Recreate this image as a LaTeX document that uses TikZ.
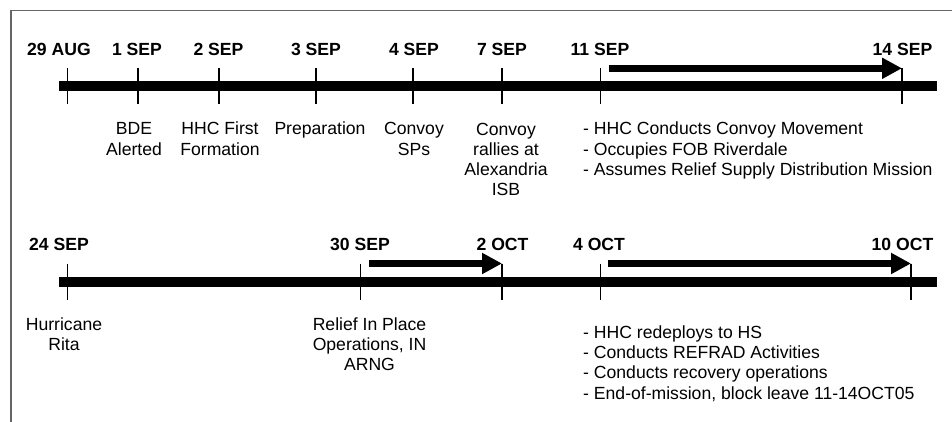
\documentclass[tikz,border=0pt]{standalone}
\usepackage{fontspec}
\setmainfont{Liberation Sans}
\usetikzlibrary{arrows.meta}
\begin{document}
\begin{tikzpicture}[x=1pt,y=-1pt,
  every node/.style={inner sep=0pt, font=\fontsize{17.6}{20.3}\selectfont},
  datelbl/.style={anchor=base, font=\fontsize{17.6}{20.3}\selectfont\bfseries},
  desc/.style={anchor=base, align=center},
  lst/.style={anchor=base west, align=left},
  bar/.style={line width=10pt},
  tickmark/.style={line width=1.2pt},
  span/.style={line width=6.5pt, -{Triangle[length=20pt,width=20pt]}},
  frameline/.style={line width=1.5pt, black!60}]
\useasboundingbox (0,0) rectangle (952,422);
% frame (top and left edges)
\draw[frameline] (11,422) -- (11,10.5) -- (952,10.5);

% ---------- Row 1 ----------
\draw[bar] (59,86) -- (937,86);
\foreach \n/\x in {a/67.7, b/138, c/219, d/316, e/413, f/502, g/600.5, h/902}{
  \coordinate (top\n) at (\x,68);
  \coordinate (bot\n) at (\x,104);
  \draw[tickmark] (top\n) -- (bot\n);
}
\coordinate (s1) at (609,68.3);
\coordinate (e1) at (902,68.3);
\draw[span] (s1) -- (e1);

\node[datelbl] (d1) at (59,55.3) {29 AUG};
\node[datelbl] (d2) at (137,55.3) {1 SEP};
\node[datelbl] (d3) at (218.5,55.3) {2 SEP};
\node[datelbl] (d4) at (316,55.3) {3 SEP};
\node[datelbl] (d5) at (414,55.3) {4 SEP};
\node[datelbl] (d6) at (502,55.3) {7 SEP};
\node[datelbl] (d7) at (600,55.3) {11 SEP};
\node[datelbl] (d8) at (902.5,55.3) {14 SEP};

% (anchor base = baseline of the last line)
\node[desc] (l2) at (134,155.3) {BDE\\Alerted};
\node[desc] (l3) at (220,155.3) {HHC First\\Formation};
\node[desc] (l4) at (320,135) {Preparation};
\node[desc] (l5) at (414,155.3) {Convoy\\SPs};
\node[desc] (l6) at (506,195.9) {Convoy\\rallies at\\Alexandria\\ISB};
\node[lst] (l7) at (583,175.6) {- HHC Conducts Convoy Movement\\- Occupies FOB Riverdale\\- Assumes Relief Supply Distribution Mission};

% ---------- Row 2 ----------
\draw[bar] (59,281.5) -- (937,281.5);
\foreach \n/\x in {p/67.7, q/360.7, r/502, s/600.5, t/911}{
  \coordinate (top\n) at (\x,263.5);
  \coordinate (bot\n) at (\x,299.5);
  \draw[tickmark] (top\n) -- (bot\n);
}
\coordinate (s2) at (369,263.5);
\coordinate (e2) at (502,263.5);
\draw[span] (s2) -- (e2);
\coordinate (s3) at (608,263.5);
\coordinate (e3) at (911,263.5);
\draw[span] (s3) -- (e3);

\node[datelbl] (m1) at (59,250) {24 SEP};
\node[datelbl] (m2) at (360,250) {30 SEP};
\node[datelbl] (m3) at (502.5,250) {2 OCT};
\node[datelbl] (m4) at (599,250) {4 OCT};
\node[datelbl] (m5) at (902.5,250) {10 OCT};

\node[desc] (n1) at (64,350.3) {Hurricane\\Rita};
\node[desc] (n2) at (369.5,370.6) {Relief In Place\\Operations, IN\\ARNG};
\node[lst] (n3) at (583,399.2) {- HHC redeploys to HS\\- Conducts REFRAD Activities\\- Conducts recovery operations\\- End-of-mission, block leave 11-14OCT05};
\end{tikzpicture}
\end{document}
